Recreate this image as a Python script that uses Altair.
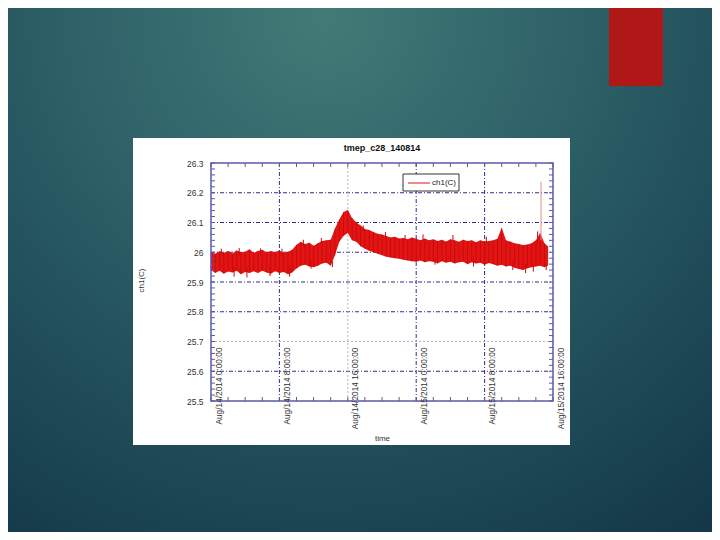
import altair as alt
import pandas as pd

# ---------------- text ----------------
title_text = ["tmep_c28_140814"]
x_title = "time"
y_title = "ch1(C)"
series_name = ["ch1(C)"]

# ---------------- data (hours since Aug/14/2014 0:00) ----------------
hours = [0.0, 0.5, 1.0, 1.5, 2.0, 2.5, 3.0, 3.5, 4.0, 4.5,
         5.0, 5.5, 6.0, 6.5, 7.0, 7.5, 8.0, 8.5, 9.0, 9.5,
         10.0, 10.5, 11.0, 11.5, 12.0, 12.5, 13.0, 13.5, 14.0, 14.5,
         15.0, 15.5, 16.0, 16.5, 17.0, 17.5, 18.0, 18.5, 19.0, 19.5,
         20.0, 20.5, 21.0, 21.5, 22.0, 22.5, 23.0, 23.5, 24.0, 24.5,
         25.0, 25.5, 26.0, 26.5, 27.0, 27.5, 28.0, 28.5, 29.0, 29.5,
         30.0, 30.5, 31.0, 31.5, 32.0, 32.5, 33.0, 33.5, 34.0, 34.5,
         35.0, 35.5, 36.0, 36.5, 37.0, 37.5, 38.0, 38.5, 39.0, 39.4]
upper = [26.000, 25.995, 26.003, 25.998, 26.004, 25.996, 26.006, 26.000, 26.002, 26.010,
         25.998, 26.004, 26.008, 25.999, 26.004, 26.000, 26.006, 25.998, 26.002, 26.008,
         26.025, 26.035, 26.028, 26.032, 26.022, 26.030, 26.038, 26.040, 26.042, 26.080,
         26.110, 26.135, 26.142, 26.115, 26.100, 26.090, 26.078, 26.075, 26.068, 26.062,
         26.060, 26.055, 26.050, 26.052, 26.046, 26.048, 26.044, 26.050, 26.045, 26.040,
         26.046, 26.040, 26.044, 26.038, 26.042, 26.036, 26.044, 26.040, 26.035, 26.042,
         26.038, 26.040, 26.034, 26.040, 26.036, 26.038, 26.040, 26.045, 26.082, 26.040,
         26.036, 26.030, 26.028, 26.024, 26.026, 26.030, 26.040, 26.065, 26.030, 26.020]
lower = [25.940, 25.930, 25.938, 25.928, 25.935, 25.932, 25.938, 25.926, 25.934, 25.930,
         25.936, 25.930, 25.938, 25.932, 25.928, 25.936, 25.930, 25.934, 25.926, 25.932,
         25.945, 25.955, 25.958, 25.952, 25.950, 25.955, 25.962, 25.965, 25.955, 25.990,
         26.035, 26.055, 26.065, 26.040, 26.035, 26.020, 26.012, 26.005, 26.000, 25.995,
         25.990, 25.985, 25.982, 25.980, 25.978, 25.975, 25.972, 25.970, 25.968, 25.972,
         25.966, 25.970, 25.968, 25.962, 25.970, 25.965, 25.968, 25.962, 25.966, 25.968,
         25.960, 25.966, 25.962, 25.965, 25.958, 25.964, 25.960, 25.955, 25.958, 25.952,
         25.955, 25.948, 25.944, 25.940, 25.946, 25.950, 25.952, 25.955, 25.950, 25.955]

# individual excursions visible outside the band (time, from, to)
exc_t = [1.2, 2.7, 3.3, 4.2, 5.8, 6.9, 8.3, 9.2, 10.8, 11.7, 12.9, 14.2, 17.8, 20.4,
         22.7, 24.8, 26.2, 28.3, 30.7, 32.2, 35.3, 36.8, 37.7, 38.2, 39.2]
exc_from = [25.99, 25.95, 25.99, 25.95, 25.99, 25.95, 25.99, 25.95, 26.02, 25.97, 26.03, 25.97, 26.07, 26.05,
            26.04, 26.04, 25.98, 26.04, 25.98, 26.03, 25.97, 25.96, 25.96, 26.03, 25.96]
exc_to = [26.012, 25.918, 26.014, 25.915, 26.013, 25.920, 26.012, 25.918, 26.042, 25.945, 26.048, 25.950,
          26.090, 26.068, 26.058, 26.060, 25.958, 26.058, 25.952, 26.052, 25.940, 25.930, 25.935, 26.070, 25.940]

spike_t = [38.6]
spike_lo = [26.04]
spike_hi = [26.237]

# ---------------- axes ----------------
x_major = [0, 8, 16, 24, 32, 40]
x_labels = ["Aug/14/2014 0:00:00", "Aug/14/2014 8:00:00", "Aug/14/2014 16:00:00",
            "Aug/15/2014 0:00:00", "Aug/15/2014 8:00:00", "Aug/15/2014 16:00:00"]
x_minor = [0, 2, 4, 6, 8, 10, 12, 14, 16, 18, 20, 22, 24, 26, 28, 30, 32, 34, 36, 38, 40]
y_major = [25.5, 25.6, 25.7, 25.8, 25.9, 26.0, 26.1, 26.2, 26.3]
y_minor = [25.5, 25.52, 25.54, 25.56, 25.58, 25.6, 25.62, 25.64, 25.66, 25.68,
           25.7, 25.72, 25.74, 25.76, 25.78, 25.8, 25.82, 25.84, 25.86, 25.88,
           25.9, 25.92, 25.94, 25.96, 25.98, 26.0, 26.02, 26.04, 26.06, 26.08,
           26.1, 26.12, 26.14, 26.16, 26.18, 26.2, 26.22, 26.24, 26.26, 26.28, 26.3]
light_y = [25.7]
light_x = [16]

M = 8                              # page margin
CW, CH = 720 - 2 * M, 540 - 2 * M  # canvas size (fits the window with margins)
W, H = 342, 238
PL, PT = 211 - M, 163 - M          # plot origin inside canvas
FONT = "Liberation Sans"
frame_c = "#5a5aa8"
grid_c = "#2e2e8c"
red = "#e31414"

label_expr = "".join(f"datum.value == {v} ? '{lab}' : " for v, lab in zip(x_major, x_labels)) + "''"

xscale = alt.Scale(domain=[0, 40], nice=False, zero=False)
yscale = alt.Scale(domain=[25.5, 26.3], nice=False, zero=False)
xaxis = alt.Axis(values=x_major, labelExpr=label_expr, labelAngle=270, labelAlign="right",
                 labelBaseline="middle", labelPadding=-54, labelOffset=8, ticks=False, tickSize=0,
                 domain=False, grid=False, labelFontSize=8.3, labelFont=FONT, labelColor="#333333",
                 labelOverlap=False, labelBound=False, labelFlush=False,
                 title=x_title, titleX=W / 2, titleY=37, titleAlign="center", titleBaseline="middle",
                 titleFontSize=8, titleFontWeight="normal", titleFont=FONT, titleColor="#333333", zindex=1)
yaxis = alt.Axis(values=y_major, format=".1~f", labelPadding=8, ticks=False, tickSize=0,
                 domain=False, grid=False, labelFontSize=8.5, labelFont=FONT, labelColor="#333333",
                 labelOverlap=False, labelBound=False, labelFlush=False,
                 title=y_title, titleX=-70, titleY=117, titleAngle=270, titleAlign="center",
                 titleBaseline="middle", titleFontSize=8, titleFontWeight="normal", titleFont=FONT,
                 titleColor="#333333", zindex=1)


def X(f):
    return alt.X(f, type="quantitative", scale=xscale, axis=xaxis)


def Y(f):
    return alt.Y(f, type="quantitative", scale=yscale, axis=yaxis)


def px(v):  # page x -> plot-relative x
    return v - M - PL


def py(v):  # page y -> plot-relative y
    return v - M - PT


dummy = pd.DataFrame({"k": [0]})
df = pd.DataFrame({"t": hours, "hi": upper, "lo": lower})
exc = pd.DataFrame({"t": exc_t, "lo": exc_from, "hi": exc_to})
spike = pd.DataFrame({"t": spike_t, "hi": spike_hi, "lo": spike_lo})

# ---------------- slide decorations ----------------
bg = alt.Chart(dummy).mark_rect(fill={
    "gradient": "radial",
    "stops": [{"offset": 0, "color": "#437a76"}, {"offset": 0.35, "color": "#30646a"},
              {"offset": 0.7, "color": "#1f4c58"}, {"offset": 1, "color": "#143848"}],
    "x1": 0.45, "y1": 0.14, "r1": 0, "x2": 0.45, "y2": 0.14, "r2": 0.9}).encode(
    x=alt.value(-PL), x2=alt.value(CW - PL), y=alt.value(-PT), y2=alt.value(CH - PT))
redbox = alt.Chart(dummy).mark_rect(fill="#b01818").encode(
    x=alt.value(px(609)), x2=alt.value(px(663)), y=alt.value(-PT), y2=alt.value(py(86)))
panel = alt.Chart(dummy).mark_rect(fill="white").encode(
    x=alt.value(px(133)), x2=alt.value(px(570)), y=alt.value(py(138)), y2=alt.value(py(445)))

# ---------------- grid ----------------
ygrid = alt.Chart(pd.DataFrame({"v": y_major})).transform_filter(
    "datum.v > 25.5 && datum.v < 26.3 && datum.v != 25.7").mark_rule(
    color=grid_c, strokeWidth=1, strokeDash=[4, 2, 1, 2]).encode(y=Y("v"), x=alt.value(0), x2=alt.value(W))
ygrid_l = alt.Chart(pd.DataFrame({"v": light_y})).mark_rule(
    color="#b4b4c8", strokeWidth=1, strokeDash=[2, 2]).encode(y=Y("v"), x=alt.value(0), x2=alt.value(W))
xgrid = alt.Chart(pd.DataFrame({"t": x_major})).transform_filter(
    "datum.t > 0 && datum.t < 40 && datum.t != 16").mark_rule(
    color=grid_c, strokeWidth=1, strokeDash=[4, 2, 1, 2]).encode(x=X("t"), y=alt.value(0), y2=alt.value(H))
xgrid_l = alt.Chart(pd.DataFrame({"t": light_x})).mark_rule(
    color="#b4b4c8", strokeWidth=1, strokeDash=[2, 2]).encode(x=X("t"), y=alt.value(0), y2=alt.value(H))

# ---------------- data ----------------
band = alt.Chart(df).mark_area(color=red, opacity=1).encode(x=X("t"), y=Y("lo"), y2="hi")
streaks = alt.Chart(df).mark_rule(color="#a80000", strokeWidth=1, opacity=0.45).encode(
    x=X("t"), y=Y("lo"), y2="hi")
excur = alt.Chart(exc).mark_rule(color="#c40c0c", strokeWidth=1).encode(x=X("t"), y=Y("lo"), y2="hi")
spk = alt.Chart(spike).mark_rule(color="#ee8a8a", strokeWidth=1).encode(x=X("t"), y=Y("lo"), y2="hi")

# ---------------- ticks & frame ----------------
ytl = alt.Chart(pd.DataFrame({"v": y_minor})).mark_rule(color=frame_c, strokeWidth=1).encode(
    y=Y("v"), x=alt.value(0), x2=alt.value(4))
ytr = alt.Chart(pd.DataFrame({"v": y_minor})).mark_rule(color=frame_c, strokeWidth=1).encode(
    y=Y("v"), x=alt.value(W - 4), x2=alt.value(W))
xtb = alt.Chart(pd.DataFrame({"t": x_minor})).mark_rule(color=frame_c, strokeWidth=1).encode(
    x=X("t"), y=alt.value(H - 4), y2=alt.value(H))
xtt = alt.Chart(pd.DataFrame({"t": x_minor})).mark_rule(color=frame_c, strokeWidth=1).encode(
    x=X("t"), y=alt.value(0), y2=alt.value(4))
frame = alt.Chart(dummy).mark_rect(filled=False, stroke=frame_c, strokeWidth=1.5).encode(
    x=alt.value(0), x2=alt.value(W), y=alt.value(0), y2=alt.value(H))

# ---------------- legend & title ----------------
names = pd.DataFrame({"name": series_name})
leg_box = alt.Chart(dummy).mark_rect(fill="white", stroke="black", strokeWidth=0.8).encode(
    x=alt.value(192), x2=alt.value(248), y=alt.value(11), y2=alt.value(28))
leg_line = alt.Chart(dummy).mark_rule(color=red, strokeWidth=1).encode(
    x=alt.value(197), x2=alt.value(219), y=alt.value(20))
leg_text = alt.Chart(names).mark_text(align="left", baseline="middle", fontSize=8, font=FONT,
                                      color="#222222").encode(
    x=alt.value(221), y=alt.value(20), text="name:N")
title = alt.Chart(pd.DataFrame({"title": title_text})).mark_text(
    align="center", baseline="middle", fontSize=9, fontWeight="bold", font=FONT, color="#111111").encode(
    x=alt.value(W / 2), y=alt.value(-15), text="title:N")

chart = alt.layer(
    bg, redbox, panel, ygrid, ygrid_l, xgrid, xgrid_l, band, streaks, excur, spk,
    ytl, ytr, xtb, xtt, frame, leg_box, leg_line, leg_text, title
).properties(
    width=W, height=H, autosize="none",
    padding={"left": PL, "top": PT, "right": CW - PL - W, "bottom": CH - PT - H},
    background="#143848",
).configure_view(stroke=None)

chart.save("out.html", embed_options={"renderer": "svg", "actions": False})
